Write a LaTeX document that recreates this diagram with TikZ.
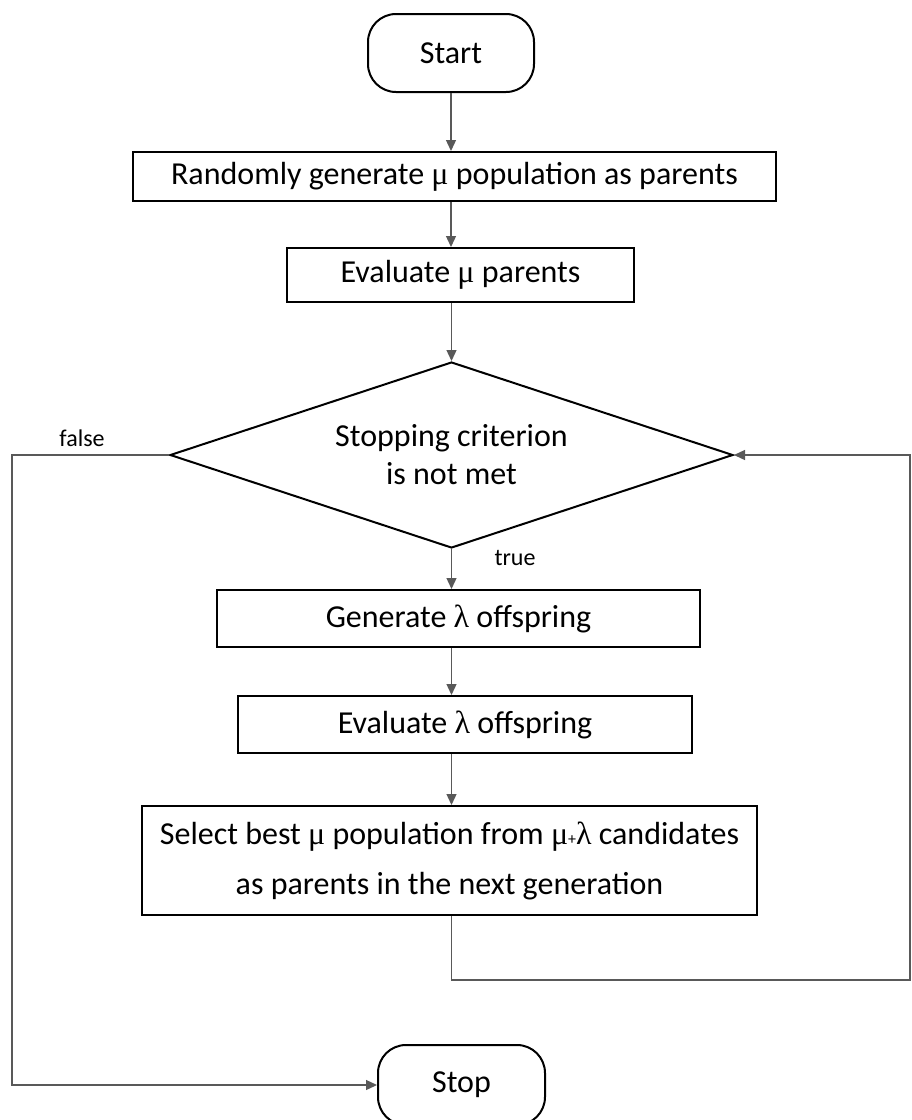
\documentclass[tikz,border=0pt]{standalone}
\usepackage{fontspec}
\setmainfont{Carlito}
\newfontfamily\symbfont{Liberation Serif}
\newcommand{\gmu}{{\symbfont μ}}
\newcommand{\glam}{{\symbfont λ}}
\usetikzlibrary{arrows.meta,shapes.geometric}

\begin{document}
\begin{tikzpicture}[x=1pt, y=-1pt,
  font=\fontsize{32}{38}\selectfont,
  term/.style={draw, line width=2pt, rounded corners=28pt, inner sep=0pt},
  proc/.style={draw, line width=2pt, inner sep=0pt},
  cond/.style={draw, line width=2pt, diamond, inner sep=0pt, aspect=3.03},
  flow/.style={draw=black!65, line width=1.3pt, -{Triangle[length=11pt, width=10pt]}},
  link/.style={draw=black!65, line width=1.3pt},
  lbl/.style={font=\fontsize{24}{28}\selectfont}]
  \useasboundingbox (0,0) rectangle (912,1120);

  % main column
  \node[term, minimum width=166pt, minimum height=78pt] (start) at (451,53) {Start};
  \node[proc, minimum width=643pt, minimum height=49pt] (init) at (454.5,176.5)
    {Randomly generate \gmu\ population as parents};
  \node[proc, minimum width=347pt, minimum height=54pt] (evalpar) at (460.5,275)
    {Evaluate \gmu\ parents};
  \node[cond, minimum width=563pt, minimum height=186pt, align=center] (crit) at (451.5,455)
    {Stopping criterion\\is not met};
  \node[proc, minimum width=483pt, minimum height=57pt] (gen) at (458.5,618.5)
    {Generate \glam\ offspring};
  \node[proc, minimum width=454pt, minimum height=57pt] (evaloff) at (465,724.5)
    {Evaluate \glam\ offspring};
  \node[proc, minimum width=615pt, minimum height=109pt, align=center,
    font=\fontsize{32}{50}\selectfont] (select) at (449.5,860.5)
    {Select best \gmu\ population from \gmu{\fontsize{16}{16}\selectfont+}\glam\ candidates\\as parents in the next generation};
  \node[term, minimum width=167pt, minimum height=80pt] (stop) at (461.5,1085) {Stop};

  \coordinate (loopturn) at (910,980);
  \coordinate (exitturn) at (12,1085);

  % connectors
  \draw[flow] (start.south) -- (init.north -| start);
  \draw[flow] (init.south -| start) -- (evalpar.north -| start);
  \draw[flow] (evalpar.south -| crit) -- (crit.north);
  \draw[flow] (crit.south) -- (gen.north -| crit);
  \draw[flow] (gen.south -| crit) -- (evaloff.north -| crit);
  \draw[flow] (evaloff.south -| crit) -- (select.north -| crit);
  \draw[flow] (select.south -| crit) |- (loopturn) |- (crit.east);
  \draw[flow] (crit.west) -| (exitturn) -- (stop.west);

  \node[lbl] (falselbl) at (82,438) {false};
  \node[lbl] (truelbl) at (515,558) {true};
\end{tikzpicture}
\end{document}
